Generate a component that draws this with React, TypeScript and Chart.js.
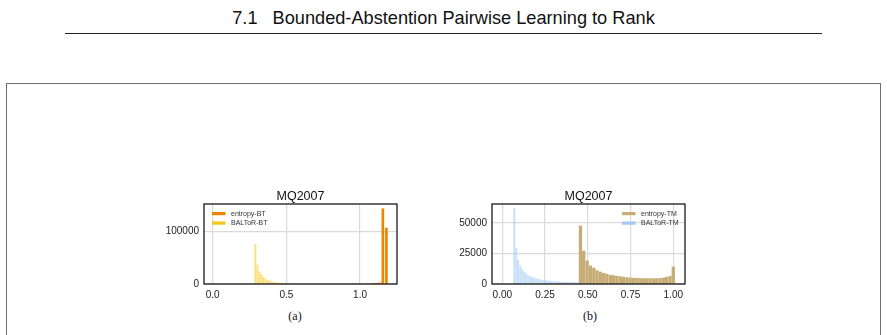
import React, { useEffect, useRef } from "react";
import { Chart, registerables } from "chart.js";

Chart.register(...registerables);

// ---------- data (a) ----------
const entropyBT_x = [1.095, 1.113, 1.131, 1.155, 1.179];
const entropyBT_y = [600, 1200, 2000, 144000, 107000];
const baltorBT_x = [0.290, 0.304, 0.317, 0.331, 0.344, 0.358, 0.372, 0.385, 0.399, 0.412, 0.426, 0.440, 0.453, 0.467, 0.480, 0.494];
const baltorBT_y = [76000, 36500, 23000, 18000, 12900, 10300, 7700, 5800, 4600, 3300, 2600, 2000, 1600, 1300, 1000, 800];
const ticksA_x = [0, 0.5, 1.0];
const ticksA_y = [0, 100000];

// ---------- data (b) ----------
const entropyTM_x = [0.457, 0.476, 0.496, 0.515, 0.535, 0.554, 0.573, 0.593, 0.612, 0.632, 0.651, 0.670, 0.690, 0.709, 0.729, 0.748, 0.767, 0.787, 0.806, 0.826, 0.845, 0.864, 0.884, 0.903, 0.923, 0.942, 0.961, 0.981, 1.000];
const entropyTM_y = [47500, 27000, 18900, 14800, 13100, 11000, 9800, 8800, 8000, 7100, 6900, 6300, 6100, 5700, 5200, 5000, 4800, 4700, 4600, 4500, 4500, 4400, 4400, 4500, 4600, 4900, 5500, 6300, 13900];
const baltorTM_x = [0.070, 0.082, 0.093, 0.105, 0.117, 0.129, 0.140, 0.152, 0.164, 0.175, 0.187, 0.199, 0.210, 0.222, 0.234, 0.246, 0.257, 0.269, 0.281, 0.292, 0.304, 0.316, 0.327, 0.339, 0.351, 0.363, 0.374, 0.386, 0.398, 0.409, 0.421, 0.433, 0.444];
const baltorTM_y = [62000, 29300, 19400, 14700, 11800, 9600, 8200, 7000, 6100, 5400, 4800, 4300, 3900, 3500, 3200, 2900, 2700, 2500, 2300, 2150, 2000, 1900, 1800, 1700, 1600, 1500, 1450, 1400, 1350, 1300, 1250, 1200, 1150];
const ticksB_x = [0, 0.25, 0.5, 0.75, 1.0];
const ticksB_y = [0, 25000, 50000];

const TITLE = "MQ2007";
const SANS = "'Liberation Sans', Arial, sans-serif";

type LegendItem = { label: string; color: string };

function pts(xs: number[], ys: number[]) {
  return xs.map((x, i) => ({ x, y: ys[i] }));
}

const framePlugin = {
  id: "frame",
  afterDatasetsDraw(chart: any) {
    const { ctx, chartArea: a } = chart;
    ctx.save();
    ctx.strokeStyle = "#111";
    ctx.lineWidth = 1.25;
    ctx.strokeRect(a.left, a.top, a.right - a.left, a.bottom - a.top);
    ctx.restore();
  },
};

function legendPlugin(items: LegendItem[], side: "left" | "right") {
  return {
    id: "boxLegend",
    afterDraw(chart: any) {
      const { ctx, chartArea: a } = chart;
      ctx.save();
      ctx.font = `7px ${SANS}`;
      ctx.textBaseline = "middle";
      ctx.textAlign = "left";
      items.forEach((it, i) => {
        const cy = a.top + 9.5 + i * 9.5;
        const px = side === "left" ? a.left + 8 : a.right - 63;
        ctx.fillStyle = it.color;
        ctx.fillRect(px, cy - 1.5, 13.5, 3.2);
        ctx.fillStyle = "#333";
        ctx.fillText(it.label, px + 19, cy + 0.5);
      });
      ctx.restore();
    },
  };
}

function makeConfig(p: {
  datasets: any[];
  xmin: number;
  xmax: number;
  ymax: number;
  xticks: number[];
  yticks: number[];
  xdec: number;
  yWidth: number;
  padRight: number;
  legend: LegendItem[];
  legendSide: "left" | "right";
}) {
  return {
    type: "bar",
    data: { datasets: p.datasets },
    options: {
      animation: false,
      responsive: false,
      devicePixelRatio: 1,
      layout: { padding: { left: 0, right: p.padRight, top: 0, bottom: 0 } },
      plugins: {
        legend: { display: false },
        tooltip: { enabled: false },
        title: {
          display: true,
          text: TITLE,
          fullSize: false,
          color: "#111",
          font: { family: SANS, size: 12.5, weight: "normal", lineHeight: 1.2 },
          padding: { top: 4, bottom: 0 },
        },
      },
      scales: {
        x: {
          type: "linear",
          min: p.xmin,
          max: p.xmax,
          offset: false,
          border: { display: false },
          grid: { offset: false, color: "#dadada", lineWidth: 1.2, drawTicks: false },
          ticks: {
            autoSkip: false,
            maxRotation: 0,
            padding: 5,
            color: "#222",
            font: { family: SANS, size: 10, lineHeight: 1.2 },
            callback: (v: any) => Number(v).toFixed(p.xdec),
          },
          afterBuildTicks: (s: any) => {
            s.ticks = p.xticks.map((v) => ({ value: v }));
          },
          afterFit: (s: any) => {
            s.height = 21;
          },
        },
        y: {
          type: "linear",
          min: 0,
          max: p.ymax,
          border: { display: false },
          grid: { offset: false, color: "#dadada", lineWidth: 1.2, drawTicks: false },
          ticks: {
            autoSkip: false,
            padding: 5,
            color: "#222",
            font: { family: SANS, size: 10, lineHeight: 1.2 },
            callback: (v: any) => String(v),
          },
          afterBuildTicks: (s: any) => {
            s.ticks = p.yticks.map((v) => ({ value: v }));
          },
          afterFit: (s: any) => {
            s.width = p.yWidth;
          },
        },
      },
    },
    plugins: [framePlugin, legendPlugin(p.legend, p.legendSide)],
  };
}

function ChartCanvas(props: { config: any; left: number; top: number; width: number; height: number }) {
  const ref = useRef<HTMLCanvasElement>(null);
  useEffect(() => {
    const chart = new Chart(ref.current as HTMLCanvasElement, props.config);
    return () => chart.destroy();
  }, []);
  return (
    <canvas
      ref={ref}
      width={props.width}
      height={props.height}
      style={{ position: "absolute", left: props.left, top: props.top, width: props.width, height: props.height }}
    />
  );
}

const configA = makeConfig({
  datasets: [
    {
      label: "entropy-BT",
      data: pts(entropyBT_x, entropyBT_y),
      backgroundColor: "#f08400",
      barThickness: 2,
      grouped: false,
    },
    {
      label: "BALToR-BT",
      data: pts(baltorBT_x, baltorBT_y),
      backgroundColor: "rgba(245,197,24,0.55)",
      barThickness: 1.2,
      grouped: false,
    },
  ],
  xmin: -0.059,
  xmax: 1.251,
  ymax: 153000,
  xticks: ticksA_x,
  yticks: ticksA_y,
  xdec: 1,
  yWidth: 54,
  padRight: 8,
  legend: [
    { label: "entropy-BT", color: "#f08400" },
    { label: "BALToR-BT", color: "#f5c518" },
  ],
  legendSide: "left",
});

const configB = makeConfig({
  datasets: [
    {
      label: "entropy-TM",
      data: pts(entropyTM_x, entropyTM_y),
      backgroundColor: "rgb(197,173,117)",
      barThickness: 2.6,
      grouped: false,
    },
    {
      label: "BALToR-TM",
      data: pts(baltorTM_x, baltorTM_y),
      backgroundColor: "rgba(161,201,244,0.6)",
      barThickness: 1.2,
      grouped: false,
    },
  ],
  xmin: -0.0602,
  xmax: 1.0685,
  ymax: 65500,
  xticks: ticksB_x,
  yticks: ticksB_y,
  xdec: 2,
  yWidth: 52,
  padRight: 10,
  legend: [
    { label: "entropy-TM", color: "rgb(197,173,117)" },
    { label: "BALToR-TM", color: "#a1c9f4" },
  ],
  legendSide: "right",
});

export default function App() {
  return (
    <div
      style={{
        position: "absolute",
        left: 0,
        top: 0,
        width: 887,
        height: 335,
        overflow: "hidden",
        background: "#fff",
      }}
    >
      <div
        style={{
          position: "absolute",
          left: 0,
          top: 8,
          width: 887,
          height: 20,
          lineHeight: "20px",
          textAlign: "center",
          fontFamily: SANS,
          fontSize: 18.2,
          color: "#111",
          whiteSpace: "nowrap",
        }}
      >
        <span style={{ marginRight: 15 }}>7.1</span>
        <span>Bounded-Abstention Pairwise Learning to Rank</span>
      </div>
      <div style={{ position: "absolute", left: 65, top: 33, width: 757, height: 1, background: "#222" }} />
      <div
        style={{
          position: "absolute",
          left: 6,
          top: 83,
          width: 875,
          height: 300,
          boxSizing: "border-box",
          border: "1.5px solid #6e6e6e",
        }}
      />
      <ChartCanvas config={configA} left={150} top={185} width={255} height={120} />
      <ChartCanvas config={configB} left={440} top={185} width={255} height={120} />
      <div
        style={{
          position: "absolute",
          left: 265,
          top: 308,
          width: 60,
          textAlign: "center",
          fontFamily: "'Liberation Serif', 'DejaVu Serif', serif",
          fontSize: 12,
          lineHeight: "16px",
          color: "#111",
        }}
      >
        (a)
      </div>
      <div
        style={{
          position: "absolute",
          left: 560,
          top: 308,
          width: 60,
          textAlign: "center",
          fontFamily: "'Liberation Serif', 'DejaVu Serif', serif",
          fontSize: 12,
          lineHeight: "16px",
          color: "#111",
        }}
      >
        (b)
      </div>
    </div>
  );
}
